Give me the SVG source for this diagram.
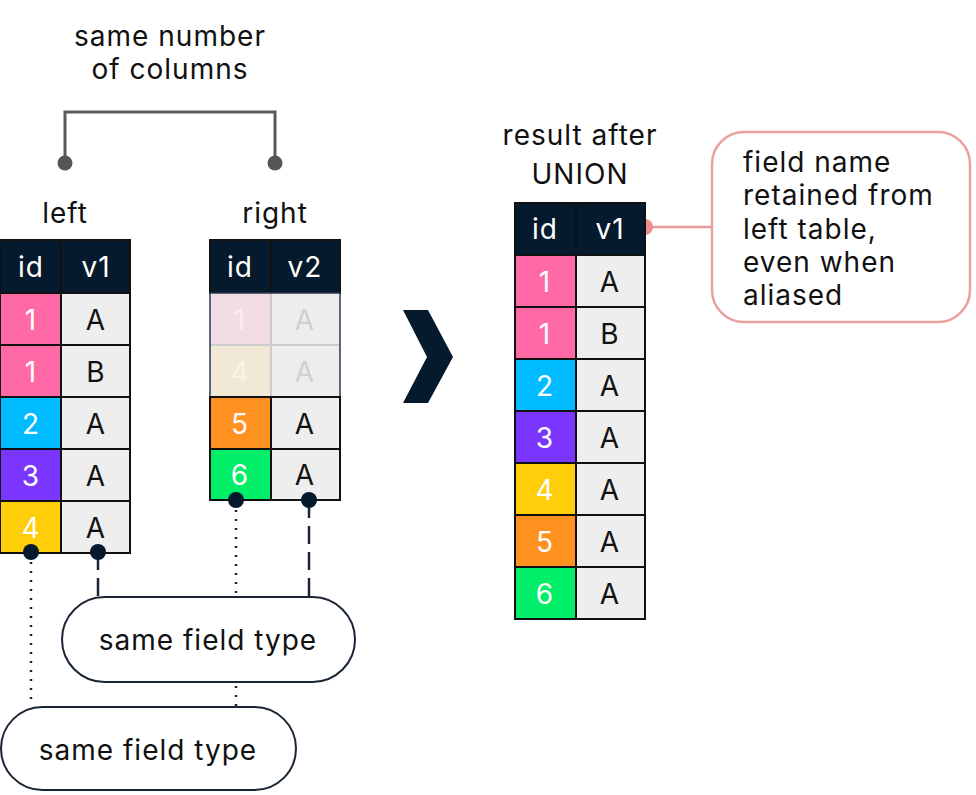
<svg xmlns="http://www.w3.org/2000/svg" width="976" height="795" viewBox="0 0 976 795">
<style>
text{font-family:Inter,"Noto Sans","DejaVu Sans",sans-serif;letter-spacing:1px;}
.lbl{font-size:28px;fill:#111;text-anchor:middle;}
.cl{font-size:28px;fill:#111;}
.hd{fill:#061a2e;stroke:#111;stroke-width:2;}
.ht{font-size:28px;fill:#fff;text-anchor:middle;}
.cell{stroke:#111;stroke-width:2;}
.nt{font-size:28px;fill:#fff;text-anchor:middle;}
.vt{font-size:28px;fill:#111;text-anchor:middle;}
.g{fill:#eeeeee;}
.pk{fill:#ff6aa6;} .cy{fill:#00bbff;} .pu{fill:#7a36ff;} .ye{fill:#ffcd0a;} .or{fill:#ff9120;} .gr{fill:#00ee68;}
.dot{fill:#061a2e;}
.pill{fill:#fff;stroke:#1a2636;stroke-width:2;}
</style>
<rect width="976" height="795" fill="#fff"/>

<g id="title">
<text class="lbl" x="170" y="46">same number</text>
<text class="lbl" x="170" y="79">of columns</text>
</g>

<g id="connectors">
<path d="M65 163 V112 H275 V163" fill="none" stroke="#5a5a5a" stroke-width="3"/>
<circle cx="65" cy="163" r="7.5" fill="#555"/>
<circle cx="275" cy="163" r="7.5" fill="#555"/>
<line x1="31" y1="562" x2="31" y2="706" stroke="#1a2636" stroke-width="2.5" stroke-dasharray="2 7"/>
<line x1="98" y1="552" x2="98" y2="597" stroke="#1a2636" stroke-width="2.5" stroke-dasharray="18 8"/>
<line x1="236" y1="510" x2="236" y2="597" stroke="#1a2636" stroke-width="2.5" stroke-dasharray="2 7"/>
<line x1="236" y1="686" x2="236" y2="706" stroke="#1a2636" stroke-width="2.5" stroke-dasharray="2 7"/>
<line x1="309" y1="500" x2="309" y2="597" stroke="#1a2636" stroke-width="2.5" stroke-dasharray="18 8"/>
<line x1="645" y1="227" x2="712" y2="227" stroke="#e89a9a" stroke-width="2.5"/>
<circle cx="645" cy="227" r="8" fill="#e89090"/>
</g>

<g id="left-table">
<text class="lbl" x="65" y="223">left</text>
<rect class="hd" x="0" y="240" width="61" height="53"/>
<rect class="hd" x="61" y="240" width="69" height="53"/>
<text class="ht" x="31" y="277">id</text>
<text class="ht" x="96" y="277">v1</text>
<rect class="cell pk" x="0" y="293" width="61" height="52"/><rect class="cell g" x="61" y="293" width="69" height="52"/>
<rect class="cell pk" x="0" y="345" width="61" height="52"/><rect class="cell g" x="61" y="345" width="69" height="52"/>
<rect class="cell cy" x="0" y="397" width="61" height="52"/><rect class="cell g" x="61" y="397" width="69" height="52"/>
<rect class="cell pu" x="0" y="449" width="61" height="52"/><rect class="cell g" x="61" y="449" width="69" height="52"/>
<rect class="cell ye" x="0" y="501" width="61" height="52"/><rect class="cell g" x="61" y="501" width="69" height="52"/>
<text class="nt" x="31" y="330">1</text><text class="vt" x="96" y="330">A</text>
<text class="nt" x="31" y="382">1</text><text class="vt" x="96" y="382">B</text>
<text class="nt" x="31" y="434">2</text><text class="vt" x="96" y="434">A</text>
<text class="nt" x="31" y="486">3</text><text class="vt" x="96" y="486">A</text>
<text class="nt" x="31" y="538">4</text><text class="vt" x="96" y="538">A</text>
<circle class="dot" cx="31" cy="552" r="8"/>
<circle class="dot" cx="98" cy="552" r="8"/>
</g>

<g id="right-table">
<text class="lbl" x="275" y="223">right</text>
<rect class="hd" x="210" y="240" width="61" height="53"/>
<rect class="hd" x="271" y="240" width="69" height="53"/>
<text class="ht" x="240" y="277">id</text>
<text class="ht" x="305" y="277">v2</text>
<rect x="210" y="293" width="61" height="52" fill="#f2dce3"/>
<rect x="210" y="345" width="61" height="52" fill="#f1e9d5"/>
<rect x="271" y="293" width="69" height="104" fill="#ededed"/>
<path d="M210 345 H340 M271 293 V397" stroke="#cccccc" stroke-width="2" fill="none"/>
<rect x="210" y="293" width="130" height="104" fill="none" stroke="#2a3a4e" stroke-width="1.5"/>
<text class="nt" x="240" y="330" style="fill:#f8eef1">1</text><text class="vt" x="305" y="330" style="fill:#d0d0d0">A</text>
<text class="nt" x="240" y="382" style="fill:#f8f3e8">4</text><text class="vt" x="305" y="382" style="fill:#d0d0d0">A</text>
<rect class="cell or" x="210" y="397" width="61" height="52"/><rect class="cell g" x="271" y="397" width="69" height="52"/>
<rect class="cell gr" x="210" y="449" width="61" height="51"/><rect class="cell g" x="271" y="449" width="69" height="51"/>
<text class="nt" x="240" y="434">5</text><text class="vt" x="305" y="434">A</text>
<text class="nt" x="240" y="485">6</text><text class="vt" x="305" y="485">A</text>
<circle class="dot" cx="236" cy="500" r="8"/>
<circle class="dot" cx="309" cy="500" r="8"/>
</g>

<g id="pill-upper">
<rect class="pill" x="62" y="597" width="293" height="85" rx="42.5"/>
<text class="lbl" x="208" y="650">same field type</text>
</g>

<g id="pill-lower">
<rect class="pill" x="1" y="707" width="295" height="83" rx="41.5"/>
<text class="lbl" x="148" y="760">same field type</text>
</g>

<g id="chevron">
<polygon points="403,310 428,310 453,357 428,403 403,403 427,357" fill="#061a2e"/>
</g>

<g id="result-table">
<text class="lbl" x="580" y="145">result after</text>
<text class="lbl" x="580" y="184">UNION</text>
<rect class="hd" x="515" y="203" width="61" height="52"/>
<rect class="hd" x="576" y="203" width="69" height="52"/>
<text class="ht" x="545" y="239">id</text>
<text class="ht" x="610" y="239">v1</text>
<rect class="cell pk" x="515" y="255" width="61" height="52"/><rect class="cell g" x="576" y="255" width="69" height="52"/>
<rect class="cell pk" x="515" y="307" width="61" height="52"/><rect class="cell g" x="576" y="307" width="69" height="52"/>
<rect class="cell cy" x="515" y="359" width="61" height="52"/><rect class="cell g" x="576" y="359" width="69" height="52"/>
<rect class="cell pu" x="515" y="411" width="61" height="52"/><rect class="cell g" x="576" y="411" width="69" height="52"/>
<rect class="cell ye" x="515" y="463" width="61" height="52"/><rect class="cell g" x="576" y="463" width="69" height="52"/>
<rect class="cell or" x="515" y="515" width="61" height="52"/><rect class="cell g" x="576" y="515" width="69" height="52"/>
<rect class="cell gr" x="515" y="567" width="61" height="52"/><rect class="cell g" x="576" y="567" width="69" height="52"/>
<text class="nt" x="545" y="292">1</text><text class="vt" x="610" y="292">A</text>
<text class="nt" x="545" y="344">1</text><text class="vt" x="610" y="344">B</text>
<text class="nt" x="545" y="396">2</text><text class="vt" x="610" y="396">A</text>
<text class="nt" x="545" y="448">3</text><text class="vt" x="610" y="448">A</text>
<text class="nt" x="545" y="500">4</text><text class="vt" x="610" y="500">A</text>
<text class="nt" x="545" y="552">5</text><text class="vt" x="610" y="552">A</text>
<text class="nt" x="545" y="604">6</text><text class="vt" x="610" y="604">A</text>
</g>

<g id="callout">
<rect x="712" y="132" width="258" height="190" rx="32" fill="#fff" stroke="#eba0a0" stroke-width="2.5"/>
<text class="cl" x="743" y="172">field name</text>
<text class="cl" x="743" y="205">retained from</text>
<text class="cl" x="743" y="239">left table,</text>
<text class="cl" x="743" y="272">even when</text>
<text class="cl" x="743" y="305">aliased</text>
</g>
</svg>
